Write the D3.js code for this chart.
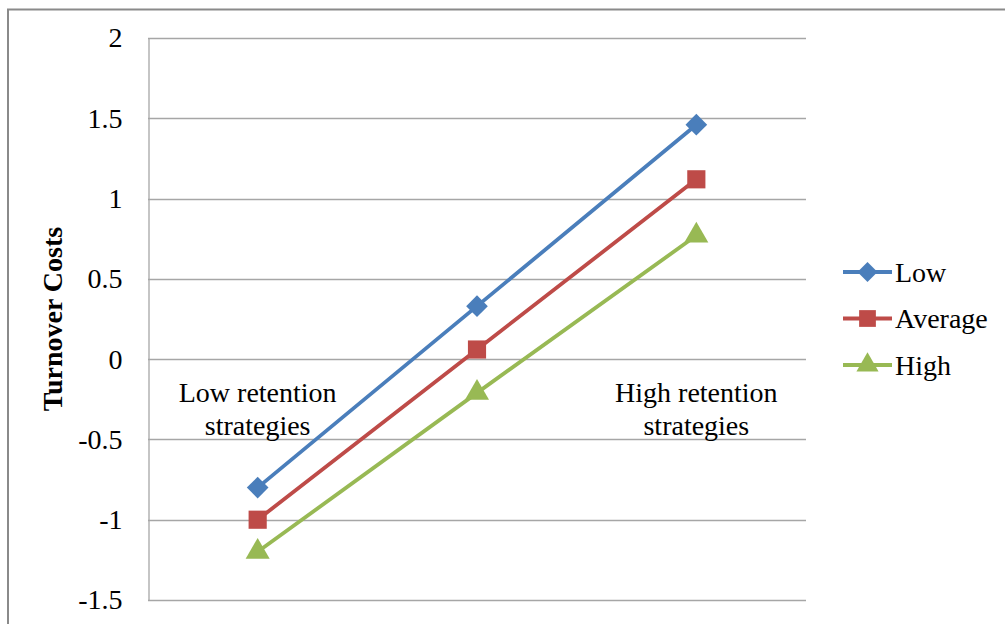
<!DOCTYPE html>
<html>
<head>
<meta charset="utf-8">
<script src="https://cdn.jsdelivr.net/npm/d3@7"></script>
<style>
  html, body { margin: 0; padding: 0; background: #fff; }
  svg { display: block; }
  text { font-family: "Liberation Serif", "Times New Roman", serif; fill: #000; }
</style>
</head>
<body>
<svg id="chart" width="1005" height="624"></svg>
<script>
// Category labels (line breaks marked with \n); the middle one is blank
const categories = ["Low retention\nstrategies", "", "High retention\nstrategies"];
const seriesNames = ["Low", "Average", "High"];
const lowValues = [-0.8, 0.33, 1.46];
const averageValues = [-1.0, 0.06, 1.12];
const highValues = [-1.2, -0.21, 0.77];
const yTicks = [-1.5, -1, -0.5, 0, 0.5, 1, 1.5, 2];
const yTitle = "Turnover Costs";

const colors = ["#4a7ebb", "#be4b48", "#98b954"];
const shapes = ["diamond", "square", "triangle"];
const series = [lowValues, averageValues, highValues].map((vals, i) => ({
  name: seriesNames[i], values: vals, color: colors[i], shape: shapes[i]
}));

const svg = d3.select("#chart");
const plot = { left: 148, right: 806, top: 38, bottom: 600 };

// outer chart frame
svg.append("rect")
  .attr("x", 8).attr("y", 9.5)
  .attr("width", 1100).attr("height", 700)
  .attr("fill", "#fff").attr("stroke", "#8a8a8a").attr("stroke-width", 2);

const x = d3.scaleBand().domain(d3.range(categories.length))
  .range([plot.left, plot.right]);
const y = d3.scaleLinear().domain([-1.5, 2]).range([plot.bottom, plot.top]);

// horizontal gridlines
svg.append("g").selectAll("line").data(yTicks).join("line")
  .attr("x1", plot.left).attr("x2", plot.right)
  .attr("y1", d => Math.round(y(d)) + 0.5).attr("y2", d => Math.round(y(d)) + 0.5)
  .attr("stroke", "#a6a6a6").attr("stroke-width", 1.3);

// value axis
const yAxis = svg.append("g")
  .attr("transform", `translate(${plot.left + 0.5},0)`)
  .call(d3.axisLeft(y).tickValues(yTicks).tickSize(0).tickPadding(26)
    .tickFormat(d => String(d)));
yAxis.attr("font-family", null).attr("font-size", null);
yAxis.select(".domain").attr("stroke", "#a6a6a6").attr("stroke-width", 1.3);
yAxis.selectAll("text")
  .style("font-family", '"Liberation Serif", "Times New Roman", serif')
  .style("font-size", "28px").attr("fill", "#000");

// axis title
svg.append("text")
  .attr("transform", `translate(62,${(plot.top + plot.bottom) / 2}) rotate(-90)`)
  .attr("text-anchor", "middle")
  .style("font-size", "28px").style("font-weight", "bold")
  .text(yTitle);

// category labels, hung just below the zero line
const catG = svg.append("g");
categories.forEach((c, i) => {
  if (!c) return;
  const t = catG.append("text")
    .attr("text-anchor", "middle")
    .style("font-size", "28px");
  c.split("\n").forEach((line, j) => {
    t.append("tspan")
      .attr("x", x(i) + x.bandwidth() / 2)
      .attr("y", y(0) + 43 + j * 33)
      .text(line);
  });
});

// marker shapes
function symbolFor(shape, scale) {
  if (shape === "diamond") return d3.symbol(d3.symbolSquare, 235 * scale)();
  if (shape === "square") return d3.symbol(d3.symbolSquare, 330 * scale)();
  return d3.symbol(d3.symbolTriangle, 250 * scale)();
}
function rotFor(shape) { return shape === "diamond" ? " rotate(45)" : ""; }

const cx = i => x(i) + x.bandwidth() / 2;
const line = d3.line().x((d, i) => cx(i)).y(d => y(d));

const sG = svg.append("g");
series.forEach(s => {
  sG.append("path")
    .attr("d", line(s.values))
    .attr("fill", "none").attr("stroke", s.color)
    .attr("stroke-width", 3.8).attr("stroke-linejoin", "round");
  sG.selectAll(null).data(s.values).join("path")
    .attr("d", symbolFor(s.shape, 1))
    .attr("transform", (d, i) => `translate(${cx(i)},${y(d)})${rotFor(s.shape)}`)
    .attr("fill", s.color);
});

// legend
const legend = svg.append("g");
series.forEach((s, i) => {
  const ly = 272 + i * 46.5;
  legend.append("line")
    .attr("x1", 843).attr("x2", 892).attr("y1", ly).attr("y2", ly)
    .attr("stroke", s.color).attr("stroke-width", 3.8);
  legend.append("path")
    .attr("d", symbolFor(s.shape, 0.85))
    .attr("transform", `translate(867.5,${ly})${rotFor(s.shape)}`)
    .attr("fill", s.color);
  legend.append("text")
    .attr("x", 895).attr("y", ly + 9.5)
    .style("font-size", "28px")
    .text(s.name);
});
</script>
</body>
</html>
